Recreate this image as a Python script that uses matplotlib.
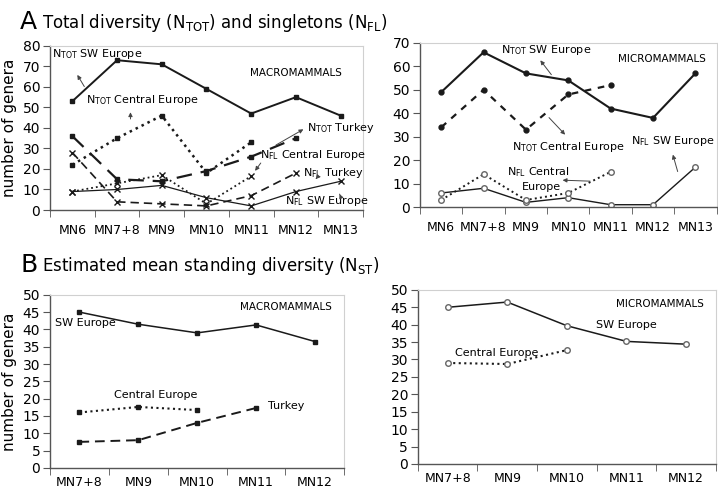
import matplotlib.pyplot as plt
import numpy as np

# stages
stages_a = ["MN6", "MN7+8", "MN9", "MN10", "MN11", "MN12", "MN13"]
stages_b = ["MN7+8", "MN9", "MN10", "MN11", "MN12"]

# A - macromammals (total N_TOT and singletons N_FL)
macro_tot_sw = [53, 73, 71, 59, 47, 55, 46]
macro_tot_ce = [22, 35, 46, 18, 33]
macro_tot_tr = [36, 15, 14, 19, 26, 35]
macro_fl_sw = [9, 10, 12, 6, 2, 9, 14]
macro_fl_ce = [9, 13, 17, 3, 16.5]
macro_fl_tr = [28, 4, 3, 2, 7, 18]

# A - micromammals
micro_tot_sw = [49, 66, 57, 54, 42, 38, 57]
micro_tot_ce = [34, 50, 33, 48, 52]
micro_fl_sw = [6, 8, 2, 4, 1, 1, 17]
micro_fl_ce = [3, 14, 3, 6, 15]

# B - estimated mean standing diversity
macro_st_sw = [45, 41.5, 39, 41.3, 36.5]
macro_st_ce = [16, 17.6, 16.7]
macro_st_tr = [7.5, 8, 13, 17.3]
micro_st_sw = [45, 46.5, 39.7, 35.2, 34.4]
micro_st_ce = [29, 28.7, 32.7]

plt.rcParams['font.family'] = ['DejaVu Sans']
ink = '#1a1a1a'
fs_note = 8

fig = plt.figure(figsize=(7.18, 4.93), dpi=100)
ax1 = fig.add_axes([0.0696, 0.574, 0.436, 0.333])
ax2 = fig.add_axes([0.585, 0.580, 0.413, 0.333])
ax3 = fig.add_axes([0.0696, 0.051, 0.410, 0.351])
ax4 = fig.add_axes([0.582, 0.059, 0.415, 0.353])


def style(ax, labels, ymax, ystep, pad=10):
    n = len(labels)
    ax.set_xlim(-0.5, n - 0.5)
    ax.set_ylim(0, ymax)
    ax.set_xticks(range(n))
    ax.set_xticklabels(labels, fontsize=9)
    ax.tick_params(axis='x', length=0, pad=pad)
    ax.set_xticks(np.arange(-0.5, n), minor=True)
    ax.tick_params(axis='x', which='minor', length=5, direction='out', color='#555')
    ax.set_yticks(np.arange(0, ymax + 1, ystep))
    ax.tick_params(axis='y', labelsize=10, length=5, pad=2, color='#555')
    for s in ['top', 'right']:
        ax.spines[s].set_color('#d0d0d0')
        ax.spines[s].set_linewidth(0.8)
    for s in ['left', 'bottom']:
        ax.spines[s].set_color('#555')
        ax.spines[s].set_linewidth(1.0)


def arrow(ax, xy, xytext):
    ax.annotate('', xy=xy, xytext=xytext,
                arrowprops=dict(arrowstyle='-|>', color='#444', lw=0.7,
                                mutation_scale=6))


# ---- top-left: macromammals
x = np.arange(7)
ax1.plot(x, macro_tot_sw, '-', color=ink, lw=1.4, marker='s', ms=3.5)
ax1.plot(x[:5], macro_tot_ce, ':', color=ink, lw=1.8, marker='s', ms=3.5)
ax1.plot(x[:6], macro_tot_tr, '--', color=ink, lw=1.6, marker='s', ms=3.5,
         dashes=(7, 4))
ax1.plot(x, macro_fl_sw, '-', color=ink, lw=0.9, marker='x', ms=4.5)
ax1.plot(x[:5], macro_fl_ce, ':', color=ink, lw=1.3, marker='x', ms=4.5)
ax1.plot(x[:6], macro_fl_tr, '--', color=ink, lw=1.2, marker='x', ms=4.5,
         dashes=(5, 3))
style(ax1, stages_a, 80, 10)
ax1.set_ylabel('number of genera', fontsize=11, labelpad=4)
ax1.text(-0.45, 76, r'N$_{\mathrm{TOT}}$ SW Europe', fontsize=fs_note, va='center')
arrow(ax1, (0.08, 67), (0.3, 59))
ax1.text(5.0, 67, 'MACROMAMMALS', fontsize=7.5, ha='center', va='center')
ax1.text(0.3, 53.5, r'N$_{\mathrm{TOT}}$ Central Europe', fontsize=fs_note, va='center')
arrow(ax1, (1.3, 49), (1.3, 43))
ax1.text(5.25, 40, r'N$_{\mathrm{TOT}}$ Turkey', fontsize=fs_note, va='center')
arrow(ax1, (5.22, 40), (4.5, 31))
ax1.text(4.2, 27, r'N$_{\mathrm{FL}}$ Central Europe', fontsize=fs_note, va='center')
arrow(ax1, (4.05, 18), (4.25, 24))
ax1.text(5.15, 18, r'N$_{\mathrm{FL}}$ Turkey', fontsize=fs_note, va='center')
arrow(ax1, (5.4, 14), (5.5, 16.5))
ax1.text(4.75, 4.5, r'N$_{\mathrm{FL}}$ SW Europe', fontsize=fs_note, va='center')
arrow(ax1, (5.95, 9), (6.0, 6.5))

# ---- top-right: micromammals
ax2.plot(x, micro_tot_sw, '-', color=ink, lw=1.5, marker='o', ms=3.5)
ax2.plot(x[:5], micro_tot_ce, '--', color=ink, lw=1.6, marker='o', ms=3.5,
         dashes=(3, 3))
ax2.plot(x, micro_fl_sw, '-', color=ink, lw=1.0, marker='o', ms=4,
         mfc='white', mec='#666')
ax2.plot(x[:5], micro_fl_ce, ':', color=ink, lw=1.4, marker='o', ms=4,
         mfc='white', mec='#666')
style(ax2, stages_a, 70, 10)
ax2.text(1.4, 67, r'N$_{\mathrm{TOT}}$ SW Europe', fontsize=fs_note, va='center')
arrow(ax2, (2.3, 63.5), (2.64, 55.5))
ax2.text(5.2, 63, 'MICROMAMMALS', fontsize=7.5, ha='center', va='center')
ax2.text(1.68, 25.6, r'N$_{\mathrm{TOT}}$ Central Europe', fontsize=fs_note, va='center')
arrow(ax2, (2.97, 30), (2.5, 39))
ax2.text(6.45, 28, r'N$_{\mathrm{FL}}$ SW Europe', fontsize=fs_note, ha='right',
         va='center')
arrow(ax2, (5.45, 23.5), (5.6, 14))
ax2.text(1.56, 15, r'N$_{\mathrm{FL}}$ Central', fontsize=fs_note, va='center')
ax2.text(1.9, 8.5, 'Europe', fontsize=fs_note, va='center')
arrow(ax2, (2.8, 11.5), (3.58, 11))

# ---- bottom-left: macromammals standing diversity
xb = np.arange(5)
ax3.plot(xb, macro_st_sw, '-', color=ink, lw=1.1, marker='s', ms=3.5)
ax3.plot(xb[:3], macro_st_ce, ':', color=ink, lw=1.5, marker='s', ms=3.5)
ax3.plot(xb[:4], macro_st_tr, '--', color=ink, lw=1.4, marker='s', ms=3.5,
         dashes=(5, 3))
style(ax3, stages_b, 50, 5, pad=6)
ax3.set_ylabel('number of genera', fontsize=11, labelpad=4)
ax3.text(-0.41, 42, 'SW Europe', fontsize=fs_note, va='center')
ax3.text(3.5, 46.5, 'MACROMAMMALS', fontsize=7.5, ha='center', va='center')
ax3.text(1.3, 21, 'Central Europe', fontsize=fs_note, ha='center', va='center')
ax3.text(3.2, 18, 'Turkey', fontsize=fs_note, va='center')

# ---- bottom-right: micromammals standing diversity
ax4.plot(xb, micro_st_sw, '-', color=ink, lw=1.1, marker='o', ms=4,
         mfc='white', mec='#666')
ax4.plot(xb[:3], micro_st_ce, ':', color=ink, lw=1.5, marker='o', ms=4,
         mfc='white', mec='#666')
style(ax4, stages_b, 50, 5, pad=6)
ax4.text(3.56, 46, 'MICROMAMMALS', fontsize=7.5, ha='center', va='center')
ax4.text(3.0, 40, 'SW Europe', fontsize=fs_note, ha='center', va='center')
ax4.text(0.12, 32, 'Central Europe', fontsize=fs_note, va='center')

# panel headings
fig.text(0.028, 0.955, 'A', fontsize=18, va='center')
fig.text(0.058, 0.953, r'Total diversity (N$_{\mathrm{TOT}}$) and singletons (N$_{\mathrm{FL}}$)',
         fontsize=12, va='center')
fig.text(0.028, 0.462, 'B', fontsize=18, va='center')
fig.text(0.058, 0.460, r'Estimated mean standing diversity (N$_{\mathrm{ST}}$)',
         fontsize=12, va='center')

fig.savefig('out.png', dpi=100)
